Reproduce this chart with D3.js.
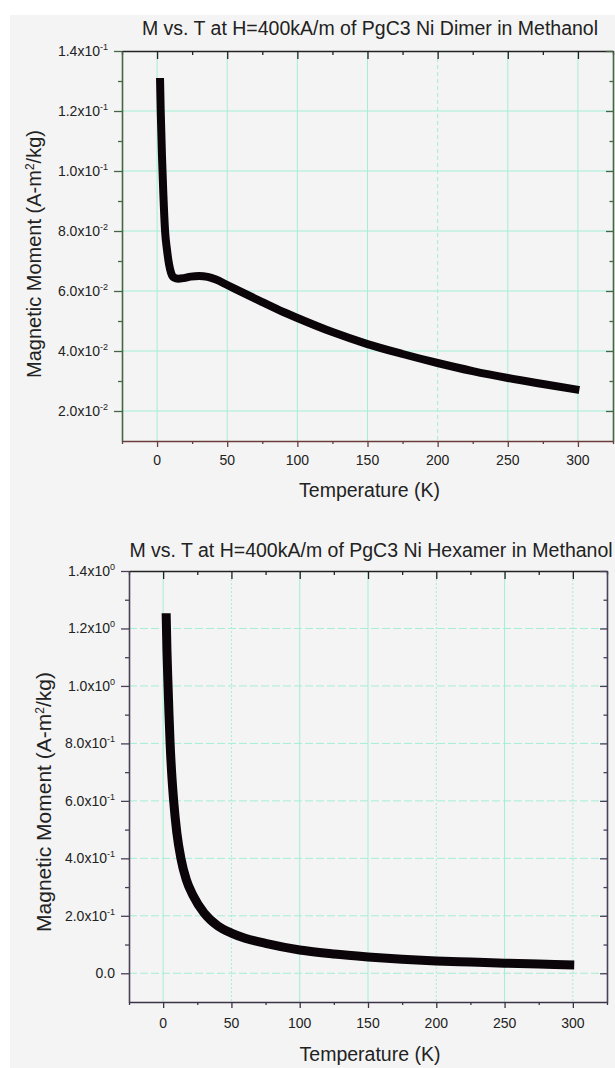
<!DOCTYPE html>
<html>
<head>
<meta charset="utf-8">
<script src="https://cdn.jsdelivr.net/npm/d3@7"></script>
<style>
  body { margin: 0; background: #fff; }
  svg { display: block; font-family: "Liberation Sans", Arial, sans-serif; }
</style>
</head>
<body>
<svg id="chart" width="615" height="1068"></svg>
<script>
// ---- data ----
const tempTicks = [0, 50, 100, 150, 200, 250, 300];
const tempMinorTicks = [-25, 25, 75, 125, 175, 225, 275, 325];

const dimerTitle = "M vs. T at H=400kA/m of PgC3 Ni Dimer in Methanol";
const dimerYTicks = [0.02, 0.04, 0.06, 0.08, 0.10, 0.12, 0.14];
const dimerYMinorTicks = [0.03, 0.05, 0.07, 0.09, 0.11, 0.13];
const dimerTemp = [2.1, 2.6, 3.5, 4.5, 5.7, 7, 8.5, 10, 12, 15, 19, 24, 30, 36, 42, 50, 60, 75, 90, 100, 125, 150, 175, 200, 225, 250, 275, 301];
const dimerMoment = [0.131, 0.120, 0.105, 0.092, 0.080, 0.074, 0.069, 0.066, 0.0645, 0.0641, 0.0643, 0.0648, 0.0650, 0.0647, 0.0638, 0.0620, 0.0597, 0.0563, 0.0530, 0.0510, 0.0463, 0.0423, 0.0390, 0.0360, 0.0333, 0.0310, 0.0290, 0.0270];

const hexTitle = "M vs. T at H=400kA/m of PgC3 Ni Hexamer in Methanol";
const hexYTicks = [0.0, 0.2, 0.4, 0.6, 0.8, 1.0, 1.2, 1.4];
const hexYMinorTicks = [0.1, 0.3, 0.5, 0.7, 0.9, 1.1, 1.3];
const hexTemp = [2.2, 2.8, 3.6, 4.3, 5.1, 6.2, 7.7, 10, 13, 17, 22, 30, 40, 50, 60, 75, 100, 125, 150, 175, 200, 225, 250, 275, 301];
const hexMoment = [1.253, 1.12, 1.0, 0.9, 0.8, 0.7, 0.6, 0.49, 0.4, 0.325, 0.27, 0.21, 0.165, 0.14, 0.122, 0.104, 0.081, 0.067, 0.057, 0.049, 0.043, 0.039, 0.035, 0.032, 0.029];

const xLabel = "Temperature (K)";

const svg = d3.select('#chart');

// grey scanned-page backdrop
svg.append('rect')
    .attr('x', 10).attr('y', 15)
    .attr('width', 605).attr('height', 1053)
    .attr('fill', '#f4f4f4');

// 1.4x10^-1 style label
function sciParts(v) {
  if (Math.abs(v) < 1e-12) return ['0.0', null];
  const e = Math.floor(Math.log10(Math.abs(v)) + 1e-9);
  const m = (v / Math.pow(10, e)).toFixed(1);
  return [m + 'x10', String(e)];
}

function drawPanel(cfg) {
  const x = d3.scaleLinear().domain([-25, 325]).range([cfg.left, cfg.right]);
  const y = d3.scaleLinear().domain(cfg.yDomain).range([cfg.bottom, cfg.top]);
  const g = svg.append('g');

  // grid
  g.append('g').selectAll('line')
    .data(tempTicks)
    .join('line')
      .attr('x1', d => x(d)).attr('x2', d => x(d))
      .attr('y1', cfg.top).attr('y2', cfg.bottom)
      .attr('stroke', '#a3eed6')
      .attr('stroke-width', 1)
      .attr('stroke-dasharray', (d, i) => cfg.vDash[i]);

  g.append('g').selectAll('line')
    .data(cfg.yTicks.slice(0, -1))
    .join('line')
      .attr('x1', cfg.left).attr('x2', cfg.right)
      .attr('y1', d => y(d)).attr('y2', d => y(d))
      .attr('stroke', '#a3eed6')
      .attr('stroke-width', 1)
      .attr('stroke-dasharray', cfg.hDash);

  // axes: outer ticks on left/bottom, inner ticks on top/right
  const axes = [
    {axis: d3.axisBottom(x), tr: `translate(0,${cfg.bottom})`, col: cfg.bottomCol, major: tempTicks, minor: tempMinorTicks, size: 6},
    {axis: d3.axisTop(x), tr: `translate(0,${cfg.top})`, col: '#222', major: tempTicks, minor: tempMinorTicks, size: -8},
    {axis: d3.axisLeft(y), tr: `translate(${cfg.left},0)`, col: cfg.leftCol, major: cfg.yTicks, minor: cfg.yMinor, size: 8},
    {axis: d3.axisRight(y), tr: `translate(${cfg.right},0)`, col: cfg.leftCol, major: cfg.yTicks, minor: cfg.yMinor, size: -7}
  ];
  axes.forEach(a => {
    const minorG = g.append('g')
        .attr('transform', a.tr)
        .call(a.axis.tickValues(a.minor).tickSize(a.size / 2).tickSizeOuter(0).tickFormat(''));
    minorG.select('.domain').attr('stroke', a.col).attr('stroke-width', 1.6);
    minorG.selectAll('.tick line').attr('stroke', a.col).attr('stroke-width', 1.3);
    const majorG = g.append('g')
        .attr('transform', a.tr)
        .call(a.axis.tickValues(a.major).tickSize(a.size).tickSizeOuter(0).tickFormat(''));
    majorG.select('.domain').remove();
    majorG.selectAll('.tick line').attr('stroke', a.col).attr('stroke-width', 1.3);
  });

  // x tick labels
  g.append('g').selectAll('text')
    .data(tempTicks)
    .join('text')
      .attr('x', d => x(d))
      .attr('y', cfg.bottom + cfg.xLabelOff)
      .attr('text-anchor', 'middle')
      .attr('font-size', 14)
      .attr('fill', '#222')
      .text(d => d);

  // y tick labels with superscript exponent
  const yl = g.append('g').selectAll('text')
    .data(cfg.yTicks)
    .join('text')
      .attr('x', cfg.left - 14)
      .attr('y', d => y(d) + 5)
      .attr('text-anchor', 'end')
      .attr('font-size', 14)
      .attr('fill', '#222');
  yl.each(function(d) {
    const [base, exp] = sciParts(d);
    const t = d3.select(this);
    t.append('tspan').text(base);
    if (exp !== null) {
      t.append('tspan').attr('dy', -6).attr('font-size', 9).text(exp);
    }
  });

  // data curve
  const line = d3.line()
      .x((d, i) => x(cfg.temp[i]))
      .y(d => y(d))
      .curve(d3.curveMonotoneX);
  g.append('path')
      .datum(cfg.moment)
      .attr('d', line)
      .attr('fill', 'none')
      .attr('stroke', '#0b0409')
      .attr('stroke-width', cfg.lineW)
      .attr('stroke-linecap', 'butt')
      .attr('stroke-linejoin', 'round');

  // titles
  g.append('text')
      .attr('x', cfg.titleX).attr('y', cfg.titleY)
      .attr('text-anchor', 'middle')
      .attr('font-size', 19.5)
      .attr('fill', '#222')
      .text(cfg.title);

  g.append('text')
      .attr('x', (cfg.left + cfg.right) / 2 + 2)
      .attr('y', cfg.bottom + cfg.xTitleOff)
      .attr('text-anchor', 'middle')
      .attr('font-size', 19.5)
      .attr('fill', '#222')
      .text(xLabel);

  const yt = g.append('text')
      .attr('transform', `translate(${cfg.yTitleX},${cfg.yTitleY}) rotate(-90)`)
      .attr('text-anchor', 'middle')
      .attr('font-size', cfg.yTitleSize)
      .attr('fill', '#222');
  yt.append('tspan').text('Magnetic Moment (A-m');
  yt.append('tspan').attr('dy', -7).attr('font-size', 12).text('2');
  yt.append('tspan').attr('dy', 7).text('/kg)');
}

drawPanel({
  left: 122, right: 613, top: 51, bottom: 441,
  yDomain: [0.01, 0.14],
  yTicks: dimerYTicks, yMinor: dimerYMinorTicks,
  temp: dimerTemp, moment: dimerMoment,
  title: dimerTitle, titleX: 370, titleY: 35,
  xLabelOff: 24, xTitleOff: 56,
  yTitleX: 41, yTitleY: 254, yTitleSize: 20,
  leftCol: '#456545', bottomCol: '#6a3c3c',
  vDash: [null, null, null, null, '4,3', null, null],
  hDash: null,
  lineW: 8
});

drawPanel({
  left: 129, right: 607, top: 571, bottom: 1002,
  yDomain: [-0.1, 1.4],
  yTicks: hexYTicks, yMinor: hexYMinorTicks,
  temp: hexTemp, moment: hexMoment,
  title: hexTitle, titleX: 371, titleY: 557,
  xLabelOff: 26, xTitleOff: 59,
  yTitleX: 51, yTitleY: 802, yTitleSize: 21,
  leftCol: '#4a4058', bottomCol: '#3b3346',
  vDash: [null, '2,2', null, null, '2,2', null, '2,2'],
  hDash: '8,3',
  lineW: 9
});
</script>
</body>
</html>
